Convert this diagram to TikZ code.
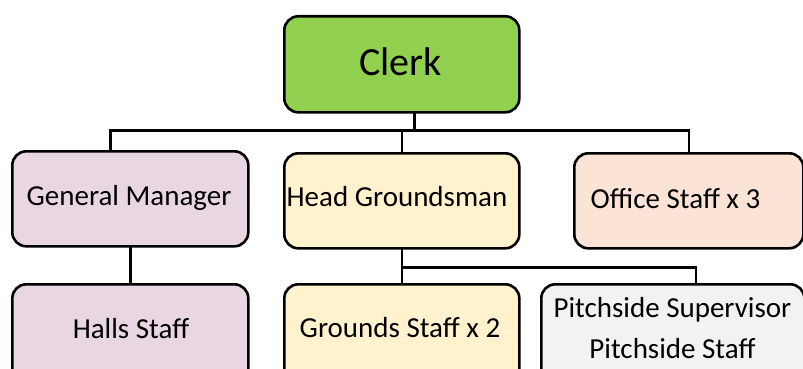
\documentclass[tikz,border=0pt]{standalone}
\usepackage{fontspec}
\setmainfont{Carlito}
\usetikzlibrary{calc}
\definecolor{clerkgreen}{HTML}{92D050}
\definecolor{mauve}{HTML}{E8D7E3}
\definecolor{cream}{HTML}{FFF2CC}
\definecolor{peach}{HTML}{FBE3D6}
\definecolor{lightgrey}{HTML}{F2F2F2}
\begin{document}
\begin{tikzpicture}[x=1pt,y=-1pt,
  box/.style={draw=black, line width=2.6pt, rounded corners=14pt, anchor=north west, inner sep=0pt},
  txt/.style={anchor=base, inner sep=0pt, font=\fontsize{29}{41}\selectfont, align=center},
  bigtxt/.style={anchor=base, inner sep=0pt, font=\fontsize{40}{48}\selectfont},
  link/.style={line width=2.6pt, line cap=rect}]
\useasboundingbox (0,0) rectangle (803,369);
\clip (0,0) rectangle (803,369);
% boxes
\node[box, fill=clerkgreen, minimum width=235pt, minimum height=96pt] (clerk) at (283,15) {};
\node[box, fill=mauve, minimum width=236pt, minimum height=95pt] (gm) at (11,150) {};
\node[box, fill=cream, minimum width=235pt, minimum height=95pt] (hg) at (283,152) {};
\node[box, fill=peach, minimum width=229pt, minimum height=95pt] (office) at (573,152) {};
\node[box, fill=mauve, minimum width=236pt, minimum height=110pt] (halls) at (11,283) {};
\node[box, fill=cream, minimum width=235pt, minimum height=110pt] (grounds) at (283,283) {};
\node[box, fill=lightgrey, minimum width=263pt, minimum height=110pt] (pitch) at (540,283) {};
% texts
\node[bigtxt] (clerkT) at (400.5,75) {Clerk};
\node[txt] (gmT) at (129,205) {General Manager};
\node[txt] (hgT) at (397,206) {Head Groundsman};
\node[txt] (officeT) at (675.5,208) {Office Staff x 3};
\node[txt] (hallsT) at (131,338) {Halls Staff};
\node[txt] (groundsT) at (400,337) {Grounds Staff x 2};
\node[txt] (pitchT) at (672.5,358) {Pitchside Supervisor\\Pitchside Staff};
% connectors
\coordinate (bus) at ([xshift=12.5pt,yshift=-17pt]clerk.south);
\draw[link] ([xshift=12.5pt]clerk.south) -- (bus);
\draw[link] ([xshift=-20pt]gm.north) |- (bus) -| (office.north);
\draw[link] (hg.north) -- (hg.north |- bus);
\draw[link] (gm.south) -- (halls.north);
\coordinate (bus2) at ([yshift=-18pt]hg.south);
\draw[link] (hg.south) -- (grounds.north);
\draw[link] (bus2) -| ([xshift=23pt]pitch.north);
\end{tikzpicture}
\end{document}
